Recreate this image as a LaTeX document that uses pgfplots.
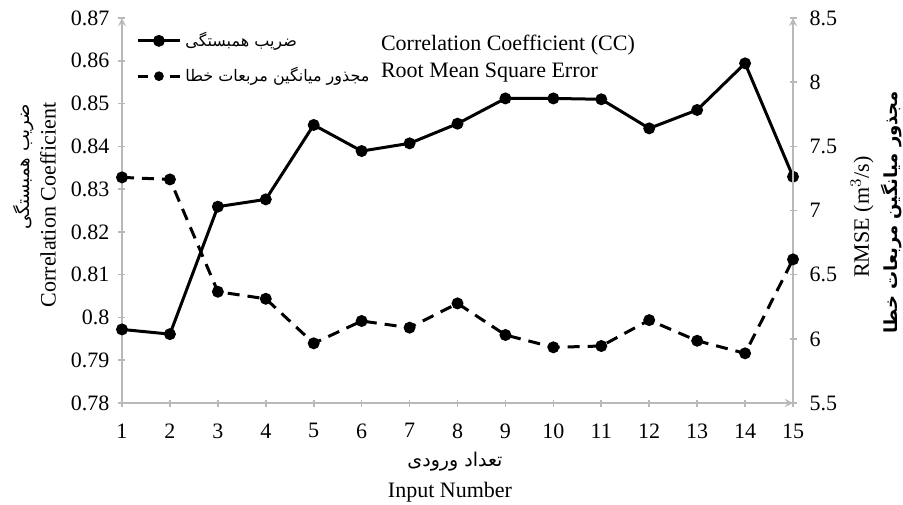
\documentclass[border=0pt]{standalone}
\usepackage{fontspec}
\setmainfont{Liberation Serif}
\newfontfamily\arabicfont[Script=Arabic]{DejaVu Sans}
\usepackage{pgfplots}
\pgfplotsset{compat=1.18}
\TeXXeTstate=1

% input number, correlation coefficient, RMSE (m^3/s)
\pgfplotstableread{
n   cc      rmse
1   0.7972  7.258
2   0.7961  7.242
3   0.8259  6.367
4   0.8276  6.312
5   0.8450  5.965
6   0.8389  6.139
7   0.8407  6.087
8   0.8453  6.276
9   0.8512  6.030
10  0.8512  5.934
11  0.8510  5.944
12  0.8442  6.146
13  0.8485  5.985
14  0.8594  5.887
15  0.8329  6.619
}\datatable

\begin{document}
\begin{tikzpicture}
\useasboundingbox (-61pt,-50.5pt) rectangle (390.5pt,201.5pt);
\pgfplotsset{
  common/.style={
    width=335.5pt, height=192.5pt, scale only axis,
    at={(0pt,0pt)}, anchor=south west,
    xmin=1, xmax=15,
    axis line style={-, draw=gray!55, line width=0.8pt},
    tick style={draw=gray!55, line width=0.8pt},
    tick align=outside, major tick length=3.5pt,
    tick label style={font=\fontsize{11}{13}\selectfont},
    /pgf/number format/assume math mode=true,
  },
}
\begin{axis}[common,
  axis x line=bottom, axis y line=left,
  ymin=0.78, ymax=0.87,
  ytick={0.78,0.79,0.8,0.81,0.82,0.83,0.84,0.85,0.86,0.87},
  yticklabel style={/pgf/number format/fixed, /pgf/number format/precision=2, xshift=-1pt},
  xtick={1,...,15},
  xticklabel style={yshift=-5pt},
  legend style={draw=none, fill=none, at={(rel axis cs:0.012,0.985)}, anchor=north west,
    font=\arabicfont\fontsize{8}{10}\selectfont, row sep=5pt},
  legend cell align=left,
]
\addplot[black, line width=1.5pt, mark=*, mark size=2.2pt,
  legend image code/.code={%
    \draw[black, line width=1.5pt] (0pt,0pt) -- (21pt,0pt);
    \fill[black] (10.5pt,0pt) circle (2.2pt);}]
  table[x=n, y=cc] {\datatable};
\addlegendentry{\beginR ضریب همبستگی\endR}
\addlegendimage{legend image code/.code={%
    \draw[black, line width=1.5pt] (0pt,0pt) -- (5pt,0pt) (16pt,0pt) -- (21pt,0pt);
    \fill[black] (10.5pt,0pt) circle (2.2pt);}}
\addlegendentry{\beginR مجذور میانگین مربعات خطا\endR}
\end{axis}
\begin{axis}[common,
  axis x line=none, axis y line=right,
  ymin=5.5, ymax=8.5,
  ytick={5.5,6,6.5,7,7.5,8,8.5},
  yticklabel style={xshift=3pt},
]
\addplot[black, line width=1.5pt, dash pattern=on 6pt off 4pt, mark=*, mark size=2.2pt, mark options={solid}] table[x=n, y=rmse] {\datatable};
\end{axis}
% series names in English beside the legend
\node[anchor=west, align=left, font=\fontsize{11}{13.5}\selectfont] at (126pt,172pt)
  {Correlation Coefficient (CC)\\Root Mean Square Error};
% axis titles
\node[rotate=90, font=\fontsize{11}{13}\selectfont] at (-37pt,99pt) {Correlation Coefficient};
\node[rotate=90, anchor=east, font=\arabicfont\fontsize{9}{11}\selectfont] at (-49pt,153pt) {\beginR ضریب همبستگی\endR};
\node[rotate=90, font=\fontsize{11}{13}\selectfont] at (370pt,93pt) {RMSE (m$^3$/s)};
\node[rotate=90, font=\arabicfont\bfseries\fontsize{9}{11}\selectfont] at (384.5pt,95.5pt) {\beginR مجذور میانگین مربعات خطا\endR};
\node[font=\arabicfont\fontsize{9.5}{11}\selectfont] at (166.5pt,-29.5pt) {\beginR تعداد ورودی\endR};
\node[font=\fontsize{11}{13}\selectfont] at (164pt,-44.5pt) {Input Number};
\end{tikzpicture}
\end{document}
